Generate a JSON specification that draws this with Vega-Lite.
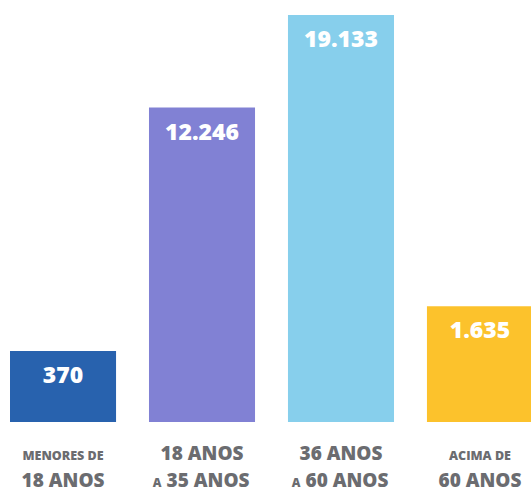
{
  "$schema": "https://vega.github.io/schema/vega-lite/v6.json",
  "autosize": "none",
  "padding": 0,
  "background": "white",
  "config": {
    "view": {"stroke": null},
    "font": "Open Sans",
    "locale": {"number": {"decimal": ",", "thousands": ".", "grouping": [3], "currency": ["R$", ""]}}
  },
  "width": 543,
  "height": 494,
  "datasets": {
    "faixas": [
      {"faixa": "Menores de 18 anos", "valor": 370},
      {"faixa": "18 a 35 anos", "valor": 12246},
      {"faixa": "36 a 60 anos", "valor": 19133},
      {"faixa": "Acima de 60 anos", "valor": 1635}
    ],
    "rotulos": [
      {"faixa": "Menores de 18 anos", "linha": 1, "texto": "MENORES DE", "enfase": "menor"},
      {"faixa": "Menores de 18 anos", "linha": 2, "texto": "18 ANOS", "enfase": "maior"},
      {"faixa": "18 a 35 anos", "linha": 1, "texto": "18 ANOS", "enfase": "maior"},
      {"faixa": "18 a 35 anos", "linha": 2, "texto": "35 ANOS", "prefixo": "A", "enfase": "maior"},
      {"faixa": "36 a 60 anos", "linha": 1, "texto": "36 ANOS", "enfase": "maior"},
      {"faixa": "36 a 60 anos", "linha": 2, "texto": "60 ANOS", "prefixo": "A", "enfase": "maior"},
      {"faixa": "Acima de 60 anos", "linha": 1, "texto": "ACIMA DE", "enfase": "menor"},
      {"faixa": "Acima de 60 anos", "linha": 2, "texto": "60 ANOS", "enfase": "maior"}
    ]
  },
  "encoding": {
    "x": {"field": "faixa", "type": "nominal", "sort": null, "axis": null,
      "scale": {"domain": ["Menores de 18 anos", "18 a 35 anos", "36 a 60 anos", "Acima de 60 anos"], "paddingInner": 0.237, "paddingOuter": 0.072}}
  },
  "layer": [
    {
      "data": {"name": "faixas"},
      "encoding": {
        "y": {"field": "valor", "type": "quantitative", "axis": null,
          "scale": {"type": "pow", "exponent": 0.66, "domain": [-3406, 20344], "zero": false, "nice": false}}
      },
      "layer": [
        {"mark": {"type": "bar"},
         "encoding": {
           "y2": {"datum": -787},
           "color": {"field": "faixa", "type": "nominal", "legend": null,
             "scale": {"domain": ["Menores de 18 anos", "18 a 35 anos", "36 a 60 anos", "Acima de 60 anos"], "range": ["#2862ae", "#8181d4", "#87cfec", "#fcc22c"]}}
         }},
        {"mark": {"type": "text", "baseline": "middle", "dy": 25, "fontSize": 23, "fontWeight": 800, "color": "white"},
         "encoding": {"text": {"field": "valor", "type": "quantitative", "format": ",.0f"}}}
      ]
    },
    {
      "data": {"name": "rotulos"},
      "encoding": {
        "y": {"field": "linha", "type": "quantitative", "axis": null,
          "scale": {"domain": [-16.037, 2.259], "reverse": true, "nice": false, "zero": false}}
      },
      "layer": [
        {
          "transform": [{"filter": "!datum.prefixo"}],
          "mark": {"type": "text", "baseline": "alphabetic", "align": "center", "fontWeight": 800, "color": "#6b6c70"},
          "encoding": {
            "text": {"field": "texto", "type": "nominal"},
            "size": {"field": "enfase", "type": "nominal", "legend": null, "scale": {"domain": ["menor", "maior"], "range": [12.5, 19]}}
          }
        },
        {
          "transform": [{"filter": "datum.prefixo"}],
          "mark": {"type": "text", "baseline": "alphabetic", "align": "center", "dx": 6, "fontWeight": 800, "color": "#6b6c70"},
          "encoding": {
            "text": {"field": "texto", "type": "nominal"},
            "size": {"field": "enfase", "type": "nominal", "legend": null, "scale": {"domain": ["menor", "maior"], "range": [12.5, 19]}}
          }
        },
        {
          "transform": [{"filter": "datum.prefixo"}],
          "mark": {"type": "text", "baseline": "alphabetic", "align": "center", "dx": -45, "fontSize": 12, "fontWeight": 800, "color": "#6b6c70"},
          "encoding": {"text": {"field": "prefixo", "type": "nominal"}}
        }
      ]
    }
  ],
  "resolve": {"scale": {"y": "independent"}}
}
